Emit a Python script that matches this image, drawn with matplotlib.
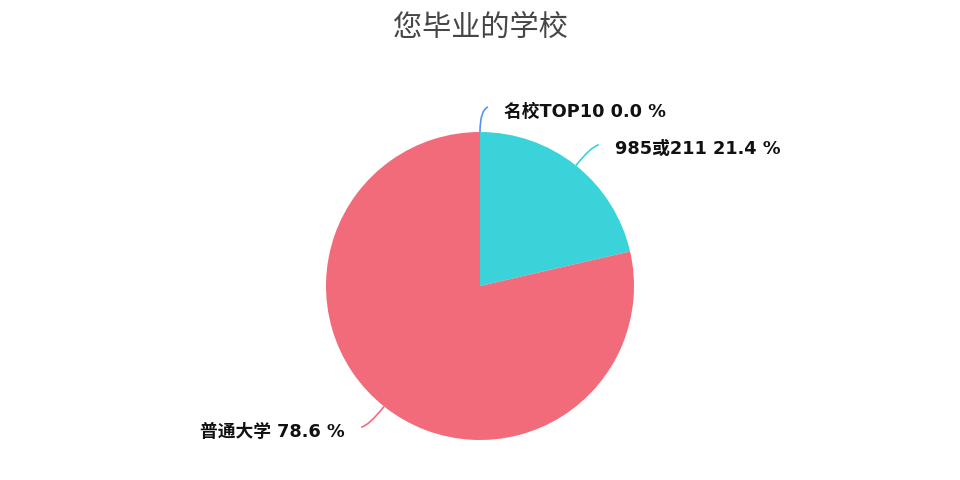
import numpy as np
import matplotlib
matplotlib.use("Agg")
import matplotlib.pyplot as plt
from matplotlib.path import Path
from matplotlib.patches import PathPatch

plt.rcParams['font.family'] = ['DejaVu Sans', 'Noto Sans CJK SC']

title = "您毕业的学校"
categories = ["名校TOP10", "985或211", "普通大学"]
values = [0.0, 21.4, 78.6]
colors = ["#5b8ff9", "#3ad3da", "#f26b7a"]

W, H = 960, 480
fig = plt.figure(figsize=(9.6, 4.8), dpi=100)
ax = fig.add_axes([0, 0, 1, 1])

cx, cy, r = 480, H - 286, 154
wedges, _ = ax.pie(values, colors=colors, startangle=90, counterclock=False,
                   center=(cx, cy), radius=r, frame=True,
                   wedgeprops=dict(linewidth=0))
ax.set_xlim(0, W)
ax.set_ylim(0, H)
ax.set_aspect('equal')
ax.axis('off')

total = sum(values)
start = 90.0
for cat, v, col in zip(categories, values, colors):
    sweep = v / total * 360.0
    mid = np.deg2rad(start - sweep / 2)
    start -= sweep
    ca, sa = np.cos(mid), np.sin(mid)
    p0 = (cx + r * ca, cy + r * sa)
    elbow = (cx + (r + 24) * ca, cy + (r + 24) * sa)
    side = 1 if ca >= -1e-9 else -1
    p2 = (elbow[0] + side * 8, elbow[1] + 2 * np.sign(sa))
    if abs(ca) < 1e-6:
        elbow = (cx, cy + r + 22)
        p2 = (cx + 8, cy + r + 25)
        side = 1
    path = Path([p0, elbow, p2], [Path.MOVETO, Path.CURVE3, Path.CURVE3])
    ax.add_patch(PathPatch(path, fill=False, edgecolor=col, lw=1.2))
    ax.text(p2[0] + side * 16, p2[1] - 4.5, f"{cat} {v:.1f} %",
            ha='left' if side > 0 else 'right', va='center',
            fontsize=12.8, fontweight='bold', color='#111111')

ax.text(W / 2, H - 28, title, ha='center', va='center', fontsize=21,
        color='#464646', family=['Noto Sans CJK SC', 'DejaVu Sans'])

fig.savefig("out.png", dpi=100)
